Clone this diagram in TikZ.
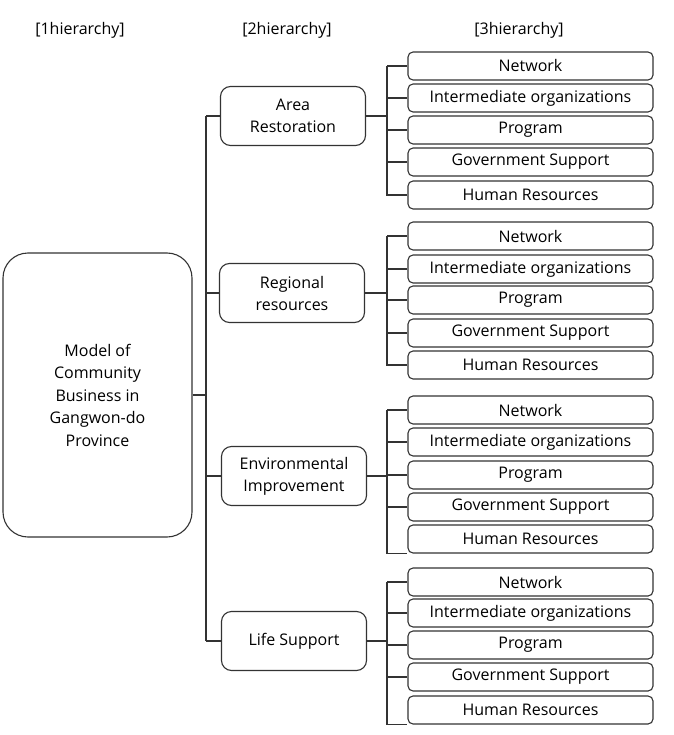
\documentclass[tikz,border=0pt]{standalone}
\usepackage{fontspec}
\setmainfont{Open Sans}
\begin{document}
\begin{tikzpicture}[x=1pt,y=-1pt,
  every node/.style={font=\fontsize{16}{22}\selectfont, text=black, align=center, inner sep=0pt},
  boxline/.style={draw=black!80, line width=1.1pt},
  rootbox/.style={boxline, rounded corners=25pt, minimum width=189pt, minimum height=284pt, font=\fontsize{16}{22.5}\selectfont},
  midbox/.style={boxline, rounded corners=10pt, minimum width=145pt, minimum height=59pt},
  leafbox/.style={boxline, rounded corners=5pt, minimum width=245pt, minimum height=28pt},
  link/.style={draw=black!80, line width=1.1pt}]
\useasboundingbox (0,0) rectangle (673,735);

% headers
\node (hA) at (80,30) {[1hierarchy]};
\node (hB) at (287,30) {[2hierarchy]};
\node (hC) at (519,30) {[3hierarchy]};

% root
\node[rootbox] (root) at (97.5,395) {Model of\\Community\\Business in\\Gangwon-do\\Province};

% level 2
\node[midbox] (m1) at (293,116) {Area\\Restoration};
\node[midbox] (m2) at (292,293) {Regional\\resources};
\node[midbox] (m3) at (294,476) {Environmental\\Improvement};
\node[midbox] (m4) at (294,641) {Life Support};

% trunk
\coordinate (tr) at (206,395);
\coordinate (t1) at (206,116);
\coordinate (t2) at (206,293);
\coordinate (t3) at (206,476);
\coordinate (t4) at (206,641);
\draw[link] (root.east) -- (tr);
\draw[link] (t1) -- (t4);
\foreach \i in {1,2,3,4} \draw[link] (t\i) -- (m\i.west);

% level 3
\foreach \g/\a/\b/\c/\d/\e in {1/66/98/130/162/195, 2/236/269/300/333/365, 3/410/442/475/507/539, 4/582/613/645/677/710}{
  \node[leafbox] (l\g-1) at (530.5,\a) {Network};
  \node[leafbox] (l\g-2) at (530.5,\b) {Intermediate organizations};
  \node[leafbox] (l\g-3) at (530.5,\c) {Program};
  \node[leafbox] (l\g-4) at (530.5,\d) {Government Support};
  \node[leafbox] (l\g-5) at (530.5,\e) {Human Resources};
}

% brackets
\foreach \g in {1,2,3,4}{
  \coordinate (b\g) at (387,0 |- m\g.east);
  \draw[link] (m\g.east) -- (b\g);
  \foreach \k in {1,2,3,4}{
    \draw[link] (387,0 |- l\g-\k.west) -- (l\g-\k.west);
  }
}
% groups 1 and 2: last stub at the box middle
\foreach \g in {1,2}{
  \draw[link] (387,0 |- l\g-1.west) -- (387,0 |- l\g-5.west) -- (l\g-5.west);
}
% groups 3 and 4: last stub at the box bottom
\foreach \g in {3,4}{
  \draw[link] (387,0 |- l\g-1.west) -- (387,0 |- l\g-5.south west) -- (l\g-5.south west);
}
\end{tikzpicture}
\end{document}
